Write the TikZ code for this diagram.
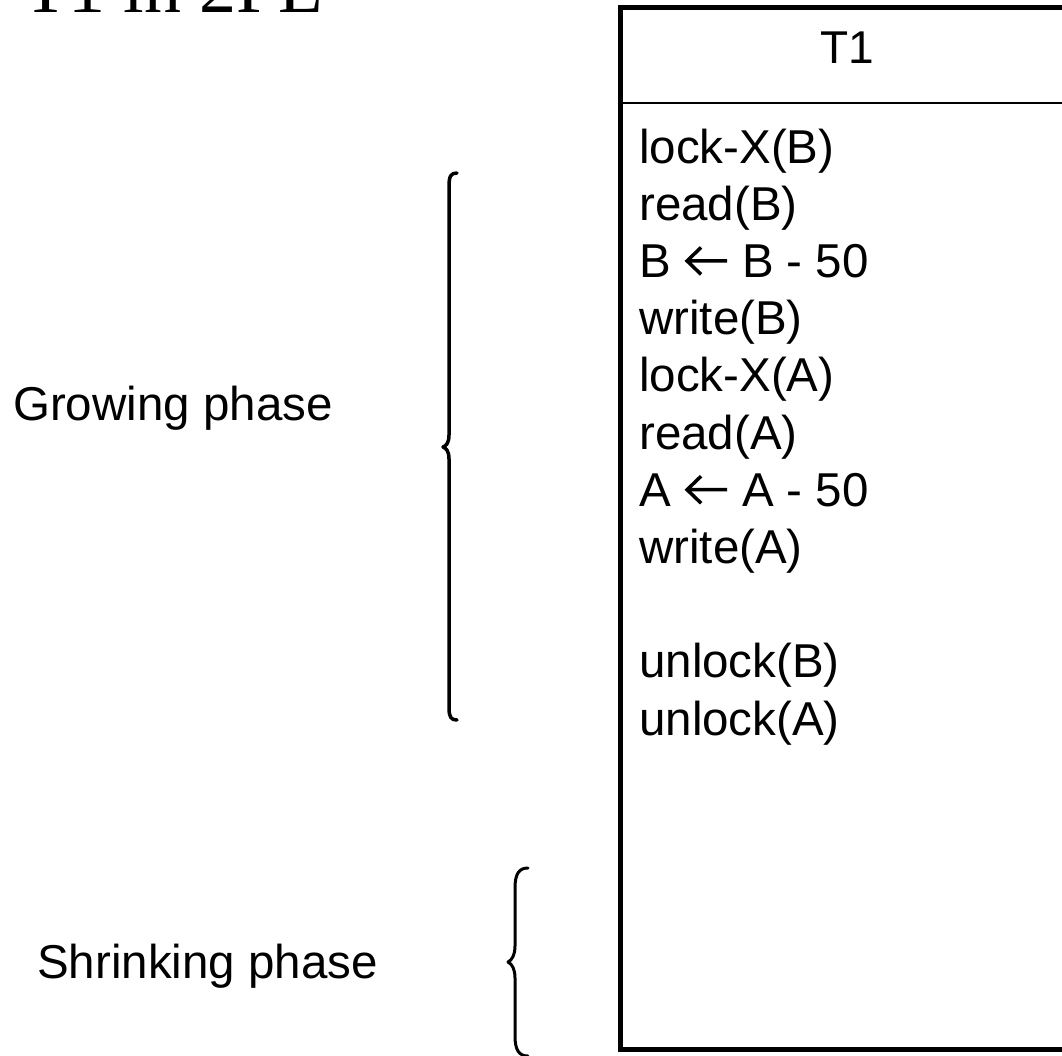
\documentclass[tikz,border=0pt]{standalone}
\usepackage{fontspec}
\setmainfont{Liberation Sans}
\newfontfamily\titlefont{Liberation Serif}
\newcommand{\larr}{\tikz[baseline=0pt, x=1pt, y=1pt]{\path (0,0) rectangle (44,30); \draw[line width=3.5pt, line cap=butt, line join=miter] (43,16.5) -- (4,16.5) (17,30) -- (3,16.5) -- (17,3);}}
\tikzset{
  row/.style={anchor=base west, inner sep=0pt, font=\fontsize{47.5}{57}\selectfont},
  lbl/.style={anchor=base west, inner sep=0pt, font=\fontsize{47.5}{57}\selectfont},
  bracepath/.style={line width=3.5pt, line cap=round, line join=round},
}
\begin{document}
\begin{tikzpicture}[x=1pt,y=1pt]
\useasboundingbox (0,0) rectangle (1062,-1055);
% cut-off title
\node[anchor=base west, inner sep=0pt, font=\titlefont\fontsize{74}{80}\selectfont] (title) at (23,-12) {T1 in 2PL};
% table
\draw[line width=5pt] (1075,-7) -- (620,-7) -- (620,-1049) -- (1075,-1049);
\draw[line width=2pt] (620,-103) -- (1075,-103);
\node[anchor=center, inner sep=0pt, font=\fontsize{46}{55}\selectfont] (t1) at (847,-48) {T1};
\node[row] (r1) at (639,-163) {lock-X(B)};
\node[row] (r2) at (639,-220.2) {read(B)};
\node[row] (r3) at (639,-277.4) {B \larr{} B - 50};
\node[row] (r4) at (639,-334.6) {write(B)};
\node[row] (r5) at (639,-391.8) {lock-X(A)};
\node[row] (r6) at (639,-449) {read(A)};
\node[row] (r7) at (639,-506.2) {A \larr{} A - 50};
\node[row] (r8) at (639,-563.4) {write(A)};
\node[row] (r9) at (639,-677.8) {unlock(B)};
\node[row] (r10) at (639,-735) {unlock(A)};
% labels
\node[lbl] (grow) at (13,-420) {Growing phase};
\node[lbl] (shrink) at (37,-978) {Shrinking phase};
% braces
\draw[bracepath] (457,-173) .. controls (451,-173) and (449,-176) .. (449,-186) -- (449,-435) .. controls (449,-443) and (446,-446) .. (443,-447) .. controls (446,-448) and (449,-451) .. (449,-459) -- (449,-708) .. controls (449,-717) and (451,-720) .. (457,-720);
\draw[bracepath, line width=3pt] (528,-868) .. controls (519,-868) and (515,-874) .. (515,-888) -- (515,-946) .. controls (515,-955) and (512,-960) .. (508,-962) .. controls (512,-964) and (515,-969) .. (515,-978) -- (515,-1036) .. controls (515,-1050) and (519,-1056) .. (528,-1056);
\end{tikzpicture}
\end{document}
